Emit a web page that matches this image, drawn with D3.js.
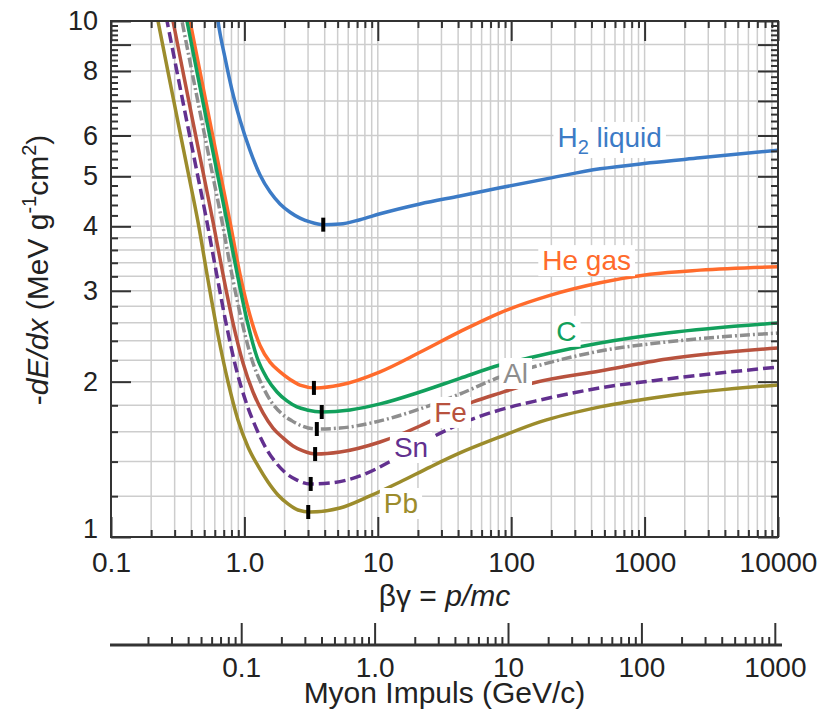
<!DOCTYPE html>
<html>
<head>
<meta charset="utf-8">
<script src="https://cdn.jsdelivr.net/npm/d3@7"></script>
<style>
  body { margin: 0; background: #fff; }
  svg { font-family: 'Liberation Sans', Arial, Helvetica, sans-serif; }
</style>
</head>
<body>
<svg width="820" height="719"></svg>
<script>
// curves: [beta*gamma, -dE/dx in MeV g^-1 cm^2]
const h2Liquid = [[0.572, 12.6], [0.634, 10.0], [0.716, 8.48], [0.807, 7.35], [0.927, 6.43], [1.10, 5.62], [1.31, 5.03], [1.56, 4.66], [1.85, 4.42], [2.20, 4.26], [2.61, 4.15], [3.10, 4.08], [3.88, 4.03], [5.21, 4.04], [7.36, 4.12], [10.4, 4.23], [20.7, 4.42], [41.3, 4.58], [82.4, 4.75], [195, 4.96], [463, 5.17], [1098, 5.31], [2602, 5.43], [10000, 5.62]];
const heGas = [[0.329, 12.6], [0.391, 10.0], [0.465, 7.97], [0.552, 6.37], [0.656, 5.10], [0.780, 4.08], [0.927, 3.23], [1.10, 2.69], [1.31, 2.35], [1.56, 2.18], [1.85, 2.09], [2.20, 2.02], [2.61, 1.97], [3.44, 1.945], [5.21, 1.97], [10.4, 2.09], [20.7, 2.28], [41.3, 2.50], [82.4, 2.72], [195, 2.94], [463, 3.11], [1098, 3.23], [2602, 3.29], [10000, 3.34]];
const carbon = [[0.3125, 12.6], [0.371, 10.0], [0.441, 7.97], [0.524, 6.37], [0.623, 5.10], [0.741, 4.08], [0.880, 3.25], [1.046, 2.63], [1.243, 2.23], [1.477, 2.03], [1.756, 1.91], [2.086, 1.835], [2.479, 1.787], [2.946, 1.763], [3.817, 1.747], [6.19, 1.763], [10.4, 1.811], [20.7, 1.91], [41.3, 2.03], [82.4, 2.154], [145.7, 2.233], [463, 2.377], [1472, 2.485], [10000, 2.599]];
const aluminium = [[0.2866, 12.6], [0.3405, 10.0], [0.4047, 7.97], [0.481, 6.37], [0.572, 5.10], [0.680, 4.08], [0.807, 3.22], [0.959, 2.61], [1.140, 2.203], [1.355, 1.971], [1.611, 1.819], [1.914, 1.732], [2.274, 1.679], [2.703, 1.641], [3.44, 1.619], [5.21, 1.626], [10.4, 1.679], [20.7, 1.771], [41.3, 1.893], [82.4, 2.042], [145.7, 2.135], [463, 2.293], [1472, 2.388], [10000, 2.485]];
const iron = [[0.2454, 12.6], [0.2915, 10.0], [0.3465, 7.97], [0.4118, 6.37], [0.4895, 5.10], [0.582, 4.08], [0.691, 3.23], [0.821, 2.60], [0.976, 2.174], [1.160, 1.910], [1.379, 1.740], [1.639, 1.626], [1.947, 1.556], [2.314, 1.501], [2.750, 1.468], [3.44, 1.448], [5.21, 1.461], [10.4, 1.528], [20.7, 1.641], [25.9, 1.686], [51.7, 1.827], [82.4, 1.901], [145.7, 1.988], [463, 2.098], [1472, 2.213], [10000, 2.324]];
const tin = [[0.2212, 12.6], [0.263, 10.0], [0.3125, 7.97], [0.371, 6.37], [0.441, 5.10], [0.524, 4.08], [0.623, 3.205], [0.741, 2.541], [0.880, 2.088], [1.046, 1.803], [1.243, 1.612], [1.477, 1.475], [1.756, 1.385], [2.086, 1.324], [2.479, 1.289], [3.103, 1.267], [4.383, 1.272], [7.36, 1.313], [13.0, 1.410], [25.9, 1.563], [49.1, 1.686], [82.4, 1.763], [164.4, 1.843], [463, 1.945], [1472, 2.024], [10000, 2.135]];
const lead = [[0.1894, 12.6], [0.225, 10.0], [0.2675, 7.97], [0.3178, 6.37], [0.3778, 5.10], [0.4489, 4.08], [0.5335, 3.148], [0.634, 2.463], [0.754, 1.997], [0.895, 1.686], [1.064, 1.494], [1.265, 1.373], [1.503, 1.278], [1.786, 1.206], [2.122, 1.159], [2.522, 1.128], [3.103, 1.118], [5.21, 1.138], [8.74, 1.201], [14.67, 1.278], [24.6, 1.366], [41.3, 1.455], [82.4, 1.563], [164.4, 1.671], [463, 1.787], [1472, 1.876], [10000, 1.971]];

const seriesNames = ['H2 liquid', 'He gas', 'C', 'Al', 'Fe', 'Sn', 'Pb'];
const series = [h2Liquid, heGas, carbon, aluminium, iron, tin, lead];

// minimum ionisation marks
const minBetaGamma = [3.9, 3.32, 3.8, 3.49, 3.39, 3.14, 3.01];
const minValue = [4.03, 1.945, 1.747, 1.619, 1.448, 1.267, 1.118];

const xMajor = [0.1, 1, 10, 100, 1000, 10000];
const xMajorLabels = ['0.1', '1.0', '10', '100', '1000', '10000'];
const yMajor = [1, 2, 3, 4, 5, 6, 7, 8, 9, 10];
const yLabelled = [1, 2, 3, 4, 5, 6, 8, 10];
const pMajor = [0.1, 1, 10, 100, 1000];
const pMajorLabels = ['0.1', '1.0', '10', '100', '1000'];
const muonMass = 0.10566; // GeV/c^2

const colors = ['#3c7bc6', '#ff6b2c', '#12a05c', '#8e8e8e', '#b8523e', '#62308f', '#9c8c2c'];
const dashes = [null, null, null, '10,3,2,3', null, '11,5', null];
// label anchors in data coordinates (left end of baseline)
const labelAt = [[222, 5.70], [171, 3.29], [218, 2.40], [87, 1.988], [26.5, 1.671], [13.2, 1.429], [11.1, 1.113]];

const svg = d3.select('svg');
const width = +svg.attr('width');
const height = +svg.attr('height');

const margin = { top: 21, right: 42, bottom: 182, left: 111 };
const innerWidth = width - margin.left - margin.right;
const innerHeight = height - margin.top - margin.bottom;

const xScale = d3.scaleLog().domain([0.1, 10000]).range([0, innerWidth]);
const yScale = d3.scaleLog().domain([1, 10]).range([innerHeight, 0]);
const pScale = d3.scaleLog().domain([0.1 * muonMass, 10000 * muonMass]).range([0, innerWidth]);

const g = svg.append('g')
    .attr('transform', `translate(${margin.left}, ${margin.top})`);

svg.append('defs').append('clipPath').attr('id', 'plot-clip')
    .append('rect').attr('width', innerWidth).attr('height', innerHeight);

// minor tick / grid positions
const decadeMinor = (from, to) => {
    const out = [];
    for (let n = from; n <= to; n++)
        for (let k = 2; k <= 9; k++) out.push(k * Math.pow(10, n));
    return out;
};
const xMinor = decadeMinor(-1, 3);
const xGrid = xMinor.concat([1, 10, 100, 1000]);
const yMinor = d3.range(12, 100, 2).filter(d => d % 10 !== 0).map(d => d / 10);
const yGrid = yMinor.filter(d => d < 4).concat(yMajor.slice(1, 9));

// grid
g.append('g').selectAll('line').data(xGrid).enter().append('line')
    .attr('x1', d => xScale(d)).attr('x2', d => xScale(d))
    .attr('y1', 0).attr('y2', innerHeight)
    .attr('stroke', '#cdcdcd').attr('stroke-width', 1.5);
g.append('g').selectAll('line').data(yGrid).enter().append('line')
    .attr('x1', 0).attr('x2', innerWidth)
    .attr('y1', d => yScale(d)).attr('y2', d => yScale(d))
    .attr('stroke', '#cdcdcd').attr('stroke-width', 1.5);

// curves
const line = d3.line()
    .x(d => xScale(d[0]))
    .y(d => yScale(d[1]))
    .curve(d3.curveMonotoneX);

const curvesG = g.append('g').attr('clip-path', 'url(#plot-clip)');
series.forEach((data, i) => {
    curvesG.append('path')
        .datum(data)
        .attr('d', line)
        .attr('fill', 'none')
        .attr('stroke', colors[i])
        .attr('stroke-width', 3.5)
        .attr('stroke-dasharray', dashes[i]);
});

// labels with white boxes
const labelG = g.append('g');
seriesNames.forEach((name, i) => {
    const t = labelG.append('text')
        .attr('x', xScale(labelAt[i][0]))
        .attr('y', yScale(labelAt[i][1]))
        .attr('fill', colors[i])
        .attr('font-size', 28);
    if (i === 0) {
        t.append('tspan').text('H');
        t.append('tspan').attr('font-size', 20).attr('dy', 7).text('2');
        t.append('tspan').attr('dy', -7).text(' liquid');
    } else {
        t.text(name);
    }
    const b = t.node().getBBox();
    labelG.insert('rect', () => t.node())
        .attr('x', b.x - 4).attr('y', b.y)
        .attr('width', b.width + 8).attr('height', b.height)
        .attr('fill', '#fff');
});

// minimum marks
g.append('g').selectAll('line').data(minBetaGamma).enter().append('line')
    .attr('x1', d => xScale(d)).attr('x2', d => xScale(d))
    .attr('y1', (d, i) => yScale(minValue[i]) - 7)
    .attr('y2', (d, i) => yScale(minValue[i]) + 7)
    .attr('stroke', '#000').attr('stroke-width', 4);

// axes on the frame
const styleAxis = sel => {
    sel.select('.domain').remove();
    sel.attr('color', '#333').attr('font-family', null).attr('font-size', null);
    sel.selectAll('.tick line').attr('stroke-width', 2);
    sel.selectAll('.tick text').attr('fill', '#222');
    sel.selectAll('.tick text').filter(function () { return this.textContent === ''; }).remove();
};

g.append('g').attr('transform', `translate(0, ${innerHeight})`)
    .call(d3.axisBottom(xScale).tickValues(xMajor)
        .tickFormat((d, i) => xMajorLabels[i]).tickSize(-20).tickPadding(15))
    .call(styleAxis)
    .selectAll('.tick text').attr('font-size', 28);
g.append('g').attr('transform', `translate(0, ${innerHeight})`)
    .call(d3.axisBottom(xScale).tickValues(xMinor).tickFormat('').tickSize(-7))
    .call(styleAxis);
g.append('g')
    .call(d3.axisTop(xScale).tickValues(xMajor).tickFormat('').tickSize(-20))
    .call(styleAxis);
g.append('g')
    .call(d3.axisTop(xScale).tickValues(xMinor).tickFormat('').tickSize(-7))
    .call(styleAxis);

const yAxisG = g.append('g')
    .call(d3.axisLeft(yScale).tickValues(yMajor)
        .tickFormat(d => yLabelled.includes(d) ? String(d) : '')
        .tickSize(-20).tickPadding(13))
    .call(styleAxis);
yAxisG.selectAll('.tick text').attr('font-size', 27)
    .filter(d => d === 1).attr('dy', '0');
g.append('g')
    .call(d3.axisLeft(yScale).tickValues(yMinor).tickFormat('').tickSize(-7))
    .call(styleAxis);
g.append('g').attr('transform', `translate(${innerWidth}, 0)`)
    .call(d3.axisRight(yScale).tickValues(yMajor).tickFormat('').tickSize(-20))
    .call(styleAxis);
g.append('g').attr('transform', `translate(${innerWidth}, 0)`)
    .call(d3.axisRight(yScale).tickValues(yMinor).tickFormat('').tickSize(-7))
    .call(styleAxis);

g.append('rect')
    .attr('width', innerWidth).attr('height', innerHeight)
    .attr('fill', 'none').attr('stroke', '#333').attr('stroke-width', 2);

// momentum axis
const pAxisY = 624;
const pAxisG = g.append('g').attr('transform', `translate(0, ${pAxisY})`);
pAxisG.call(d3.axisBottom(pScale).tickValues(pMajor)
        .tickFormat((d, i) => pMajorLabels[i]).tickSize(-22).tickPadding(12))
    .call(styleAxis)
    .selectAll('.tick text').attr('font-size', 28);
g.append('g').attr('transform', `translate(0, ${pAxisY})`)
    .call(d3.axisBottom(pScale).tickValues(decadeMinor(-2, 2)).tickFormat('').tickSize(-8))
    .call(styleAxis);
g.append('line')
    .attr('x1', -1).attr('x2', innerWidth + 4)
    .attr('y1', pAxisY).attr('y2', pAxisY)
    .attr('stroke', '#333').attr('stroke-width', 3);

// titles
const xTitle = g.append('text')
    .attr('x', innerWidth / 2).attr('y', 585)
    .attr('text-anchor', 'middle').attr('font-size', 30).attr('fill', '#222');
xTitle.append('tspan').text('βγ = ');
xTitle.append('tspan').attr('font-style', 'italic').text('p/mc');

g.append('text')
    .attr('x', innerWidth / 2).attr('y', 682)
    .attr('text-anchor', 'middle').attr('font-size', 30).attr('fill', '#222')
    .text('Myon Impuls (GeV/c)');

const yTitle = svg.append('text')
    .attr('transform', 'translate(48, 270) rotate(-90)')
    .attr('text-anchor', 'middle').attr('font-size', 30).attr('fill', '#222');
yTitle.append('tspan').text('-');
yTitle.append('tspan').attr('font-style', 'italic').text('dE/dx');
yTitle.append('tspan').text(' (MeV g');
yTitle.append('tspan').attr('font-size', 20).attr('dy', -12).text('-1');
yTitle.append('tspan').attr('dy', 12).text('cm');
yTitle.append('tspan').attr('font-size', 20).attr('dy', -12).text('2');
yTitle.append('tspan').attr('dy', 12).text(')');
</script>
</body>
</html>
